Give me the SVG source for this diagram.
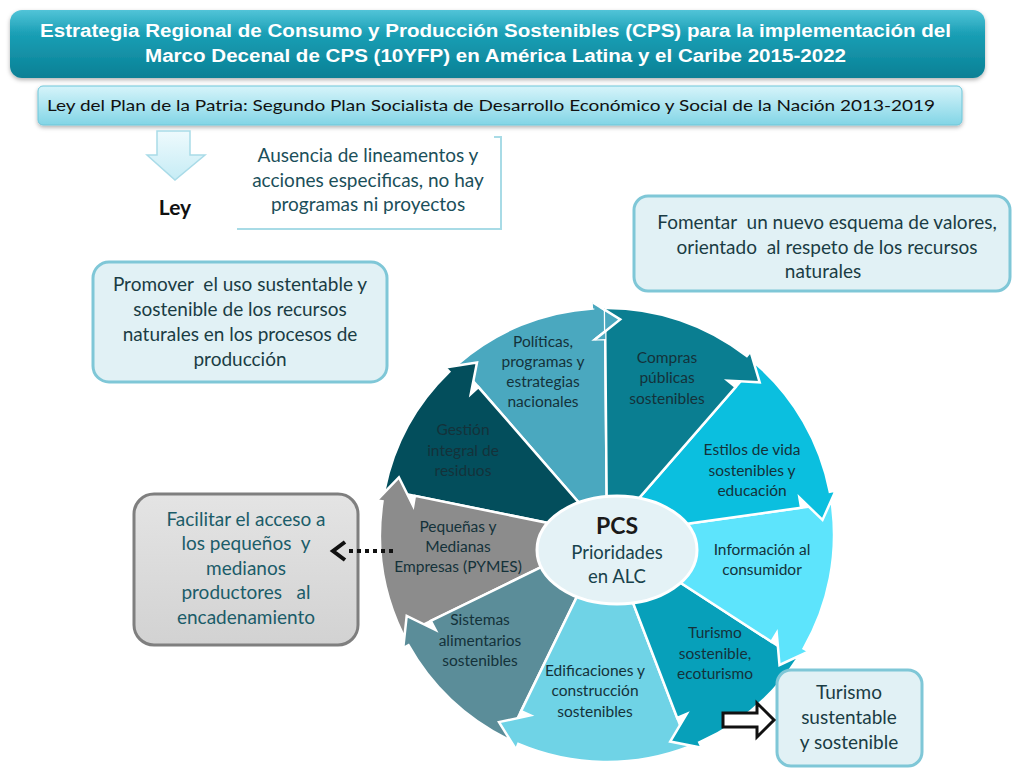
<svg xmlns="http://www.w3.org/2000/svg" width="1016" height="768" viewBox="0 0 1016 768">
<defs>
<linearGradient id="gTitle" x1="0" y1="0" x2="0" y2="1">
<stop offset="0" stop-color="#52c4d8"/><stop offset="0.35" stop-color="#1a9fb5"/><stop offset="1" stop-color="#0a8095"/>
</linearGradient>
<linearGradient id="gSub" x1="0" y1="0" x2="0" y2="1">
<stop offset="0" stop-color="#d6f4fa"/><stop offset="1" stop-color="#82d5e6"/>
</linearGradient>
<linearGradient id="gDown" x1="0" y1="0" x2="0" y2="1">
<stop offset="0" stop-color="#eefafd"/><stop offset="1" stop-color="#c6ecf5"/>
</linearGradient>
<linearGradient id="gGray" x1="0" y1="0" x2="0" y2="1">
<stop offset="0" stop-color="#e4e4e4"/><stop offset="1" stop-color="#d2d2d2"/>
</linearGradient>
<filter id="sh" x="-5%" y="-10%" width="110%" height="130%">
<feDropShadow dx="0" dy="2" stdDeviation="2" flood-color="#000" flood-opacity="0.3"/>
</filter>
</defs>
<style>
.t{font-family:Lato,"Open Sans","Liberation Sans",sans-serif;text-anchor:middle}
.seg{stroke:#fff;stroke-width:2.5;stroke-linejoin:miter}
.st{font-size:15.5px;fill:#14323a}
.box{fill:#e1f1f5;stroke:#7fc7d7;stroke-width:3}
.bt{font-size:19px;fill:#1a3c44}
</style>

<g id="title" filter="url(#sh)">
<rect x="10" y="10" width="975" height="68" rx="12" fill="url(#gTitle)"/>
</g>
<g id="title-text">
<text x="495.5" y="37" font-family="'Liberation Sans',Arial,sans-serif" font-weight="bold" font-size="18" fill="#fff" text-anchor="middle" textLength="911" lengthAdjust="spacingAndGlyphs">Estrategia Regional de Consumo y Producción Sostenibles (CPS) para la implementación del</text>
<text x="495.5" y="62" font-family="'Liberation Sans',Arial,sans-serif" font-weight="bold" font-size="18" fill="#fff" text-anchor="middle" textLength="701" lengthAdjust="spacingAndGlyphs">Marco Decenal de CPS (10YFP) en América Latina y el Caribe 2015-2022</text>
</g>

<g id="ley-plan">
<rect x="38" y="86" width="924" height="39" rx="5" fill="url(#gSub)" stroke="#6fc6d9" stroke-width="1" filter="url(#sh)"/>
<text class="t" x="491" y="111" font-size="16" fill="#111" textLength="888" lengthAdjust="spacingAndGlyphs">Ley del Plan de la Patria: Segundo Plan Socialista de Desarrollo Económico y Social de la Nación 2013-2019</text>
</g>

<g id="ley">
<path d="M157,131 L190,131 L190,155 L205,155 L175,180 L147,155 L157,155 Z" fill="url(#gDown)" stroke="#a9dbe8" stroke-width="1.5"/>
<text class="t" x="175" y="215" font-size="21" font-weight="bold" fill="#111">Ley</text>
</g>

<g id="ausencia">
<path d="M494,137 L501,137 L501,229 L237,229" fill="none" stroke="#a8dbe6" stroke-width="2"/>
<text class="t" x="368" y="162" font-size="19" fill="#1b4f5a">Ausencia de lineamentos y</text>
<text class="t" x="368" y="187" font-size="19" fill="#1b4f5a">acciones especificas, no hay</text>
<text class="t" x="368" y="211" font-size="19" fill="#1b4f5a">programas ni proyectos</text>
</g>

<g id="fomentar">
<rect class="box" x="634" y="196" width="376" height="95" rx="14"/>
<text class="t bt" x="827" y="229" xml:space="preserve">Fomentar  un nuevo esquema de valores,</text>
<text class="t bt" x="827" y="254" xml:space="preserve">orientado  al respeto de los recursos</text>
<text class="t bt" x="823" y="278">naturales</text>
</g>

<g id="promover">
<rect class="box" x="93" y="262" width="294" height="120" rx="16"/>
<text class="t bt" x="240" y="291" xml:space="preserve">Promover  el uso sustentable y</text>
<text class="t bt" x="240" y="316">sostenible de los recursos</text>
<text class="t bt" x="240" y="341">naturales en los procesos de</text>
<text class="t bt" x="240" y="366">producción</text>
</g>

<g id="facilitar">
<rect x="134" y="494" width="224" height="151" rx="20" fill="url(#gGray)" stroke="#7f7f7f" stroke-width="3"/>
<text class="t" x="246" y="526" font-size="19" fill="#1b5c69">Facilitar el acceso a</text>
<text class="t" x="246" y="550" font-size="19" fill="#1b5c69" xml:space="preserve">los pequeños  y</text>
<text class="t" x="246" y="575" font-size="19" fill="#1b5c69">medianos</text>
<text class="t" x="246" y="599" font-size="19" fill="#1b5c69" xml:space="preserve">productores   al</text>
<text class="t" x="246" y="624" font-size="19" fill="#1b5c69">encadenamiento</text>
</g>

<g id="wheel">
<g id="politicas">
<path class="seg" fill="#4aa8bf" d="M607,535 L458.1,363.7 A227,227 0 0 1 593.1,308.4 L592.8,302.4 L620.2,319.4 L595.0,339.4 L605.3,339.0 Z"/>
</g>
<g id="gestion">
<path class="seg" fill="#034e5c" d="M607,535 L384.6,489.7 A227,227 0 0 1 449.3,371.7 L445.1,367.4 L477.0,362.5 L470.8,394.0 L478.4,387.1 Z"/>
</g>
<g id="pymes">
<path class="seg" fill="#8c8c8c" d="M607,535 L403.0,634.5 A227,227 0 0 1 382.5,501.4 L376.6,500.6 L398.9,477.3 L413.2,506.0 L414.9,495.9 Z"/>
</g>
<g id="sistemas">
<path class="seg" fill="#5b8d99" d="M607,535 L507.5,739.0 A227,227 0 0 1 408.5,645.1 L403.2,648.0 L406.7,615.9 L435.6,630.0 L430.8,620.9 Z"/>
</g>
<g id="edificaciones">
<path class="seg" fill="#6fd3e6" d="M607,535 L688.4,746.9 A227,227 0 0 1 518.3,744.0 L516.0,749.5 L499.0,722.1 L530.4,715.4 L521.1,711.2 Z"/>
</g>
<g id="turismo">
<path class="seg" fill="#07a0ba" d="M607,535 L797.4,658.6 A227,227 0 0 1 699.3,742.4 L701.8,747.8 L670.2,741.6 L686.7,714.0 L677.2,718.0 Z"/>
</g>
<g id="informacion">
<path class="seg" fill="#5de4fc" d="M607,535 L831.8,503.4 A227,227 0 0 1 803.6,648.5 L808.8,651.5 L779.5,665.0 L776.7,633.0 L771.4,641.7 Z"/>
</g>
<g id="estilos">
<path class="seg" fill="#0bbfdf" d="M607,535 L755.9,363.7 A227,227 0 0 1 829.8,491.7 L835.7,490.5 L822.5,519.9 L799.4,497.6 L801.1,507.7 Z"/>
</g>
<g id="compras">
<path class="seg" fill="#0a7e91" d="M607,535 L605.0,308.0 A227,227 0 0 1 746.8,356.1 L750.5,351.4 L759.7,382.3 L727.7,380.6 L735.6,387.1 Z"/>
</g>
<g id="politicas-head">
<path fill="#4aa8bf" d="M592.8,302.4 L620.2,319.4 L595.0,339.4 L605.3,339.0 L605.0,308.0 L593.1,308.4 Z"/>
<path d="M592.8,302.4 L620.2,319.4 L595.0,339.4" fill="none" stroke="#fff" stroke-width="2.5"/>
</g>
<g id="hub">
<ellipse cx="617" cy="550" rx="80" ry="54" fill="#e4f2f6" stroke="#fff" stroke-width="3"/>
<text class="t" x="617" y="534" font-size="23" font-weight="bold" fill="#1a1a1a">PCS</text>
<text class="t" x="617" y="559" font-size="18.5" fill="#18434c">Prioridades</text>
<text class="t" x="617" y="583" font-size="18.5" fill="#18434c">en ALC</text>
</g>
<g id="seg-labels">
<text class="t st" x="543" y="347">Políticas,</text>
<text class="t st" x="543" y="367">programas y</text>
<text class="t st" x="543" y="387">estrategias</text>
<text class="t st" x="543" y="407">nacionales</text>
<text class="t st" x="667" y="363">Compras</text>
<text class="t st" x="667" y="383">públicas</text>
<text class="t st" x="667" y="404">sostenibles</text>
<text class="t st" x="752" y="455">Estilos de vida</text>
<text class="t st" x="752" y="476">sostenibles y</text>
<text class="t st" x="752" y="496">educación</text>
<text class="t st" x="463" y="435">Gestión</text>
<text class="t st" x="463" y="456">integral de</text>
<text class="t st" x="463" y="476">residuos</text>
<text class="t st" x="458" y="532">Pequeñas y</text>
<text class="t st" x="458" y="552">Medianas</text>
<text class="t st" x="458" y="572">Empresas (PYMES)</text>
<text class="t st" x="762" y="555">Información al</text>
<text class="t st" x="762" y="575">consumidor</text>
<text class="t st" x="480" y="625">Sistemas</text>
<text class="t st" x="480" y="646">alimentarios</text>
<text class="t st" x="480" y="666">sostenibles</text>
<text class="t st" x="595" y="676">Edificaciones y</text>
<text class="t st" x="595" y="696">construcción</text>
<text class="t st" x="595" y="717">sostenibles</text>
<text class="t st" x="715" y="638">Turismo</text>
<text class="t st" x="715" y="659">sostenible,</text>
<text class="t st" x="715" y="679">ecoturismo</text>
</g>
</g>

<g id="turismo-box">
<rect class="box" x="777" y="670" width="145" height="96" rx="14"/>
<text class="t" x="849" y="699" font-size="19" fill="#1a3c44">Turismo</text>
<text class="t" x="849" y="724" font-size="19" fill="#1a3c44">sustentable</text>
<text class="t" x="849" y="749" font-size="19" fill="#1a3c44">y sostenible</text>
</g>

<g id="connectors">
<line x1="393" y1="551" x2="348" y2="551" stroke="#111" stroke-width="4" stroke-dasharray="4,4"/>
<polyline points="345,542 333,551 345,560" fill="none" stroke="#111" stroke-width="4" stroke-linejoin="miter"/>
<path d="M723,713 L757,713 L757,703 L774,720 L757,737 L757,727 L723,727 Z" fill="#fff" stroke="#111" stroke-width="3" stroke-linejoin="miter"/>
</g>
</svg>
